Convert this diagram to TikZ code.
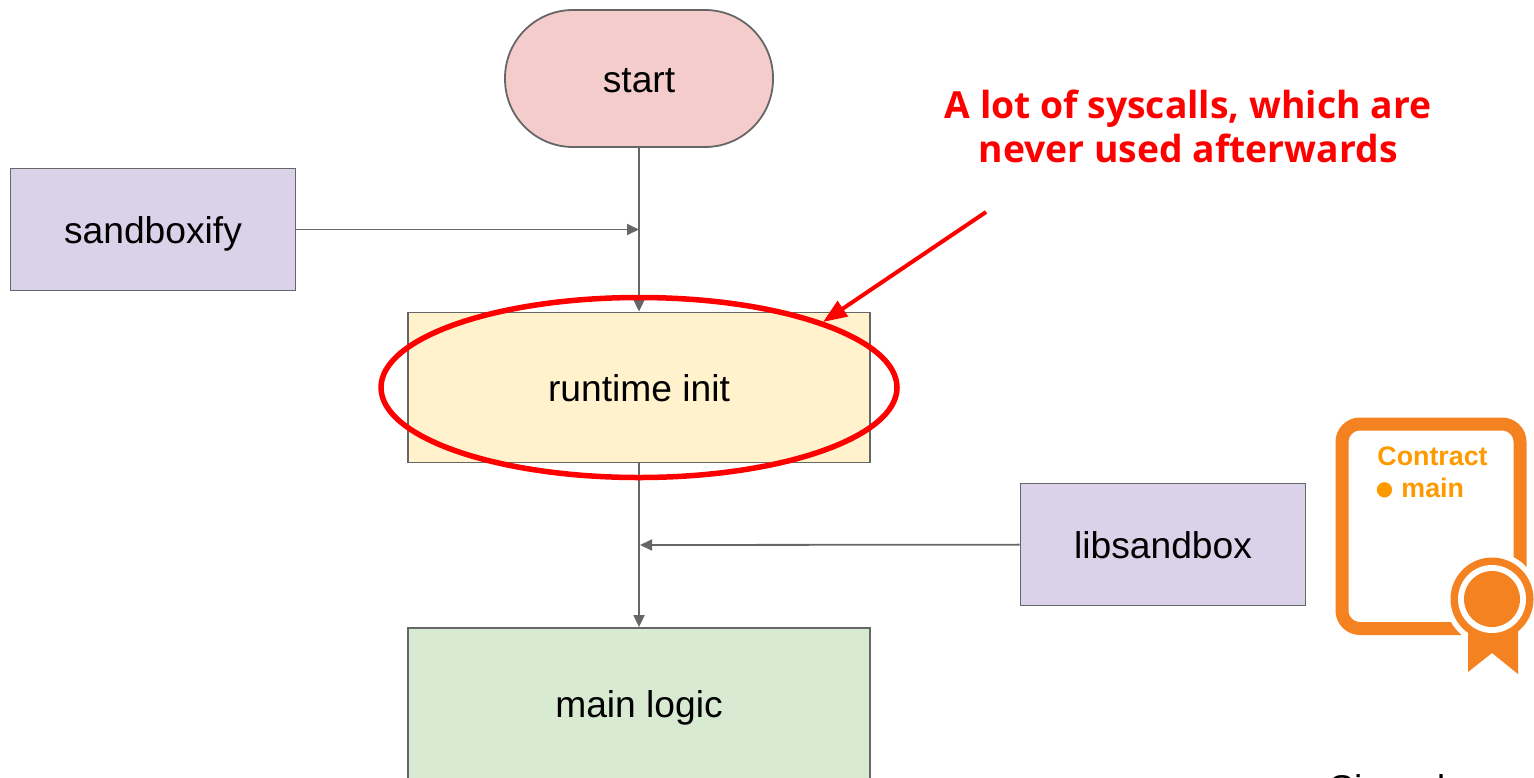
\documentclass[tikz,border=0pt]{standalone}
\usepackage{fontspec}
\setmainfont{Liberation Sans}
\newfontfamily\notefont{Open Sans}
\newfontfamily\dotfont{DejaVu Sans}
\usetikzlibrary{arrows.meta,positioning}
\definecolor{linegray}{HTML}{666666}
\definecolor{startpink}{HTML}{F4CCCC}
\definecolor{sandpurple}{HTML}{D9D2E9}
\definecolor{initcream}{HTML}{FFF2CC}
\definecolor{maingreen}{HTML}{D9EAD3}
\definecolor{badgeorange}{HTML}{F58220}
\definecolor{contractorange}{HTML}{FF9900}
\tikzset{
  flowbox/.style={draw=linegray, line width=0.9pt, inner sep=0pt, text height=15pt, text depth=1.5pt, font=\fontsize{18.6}{22}\selectfont},
  flowline/.style={draw=linegray, line width=0.9pt, -{Triangle[length=6pt,width=5.5pt]}},
  contractlabel/.style={text=contractorange, font=\fontsize{13.4}{16}\selectfont\bfseries, inner sep=0pt, anchor=west},
}
\begin{document}
\begin{tikzpicture}[x=0.5pt, y=-0.5pt]
\useasboundingbox (0,0) rectangle (1534,777);

\node[flowbox, fill=startpink, rounded corners=34pt, minimum width=134pt, minimum height=68.5pt] (start) at (639,78.5) {start};
\node[flowbox, fill=sandpurple, minimum width=142.5pt, minimum height=61pt] (sandboxify) at (153,229.5) {sandboxify};
\node[flowbox, fill=initcream, minimum width=231pt, minimum height=75pt] (init) at (639,387.5) {runtime init};
\node[flowbox, fill=sandpurple, minimum width=142.5pt, minimum height=61pt] (libsandbox) at (1163,544.5) {libsandbox};
% main logic runs off the bottom of the page
\begin{scope}
\clip (0,0) rectangle (1534,777);
\node[flowbox, fill=maingreen, minimum width=231pt, minimum height=76pt] (mainlogic) at (639,704) {main logic};
\node[anchor=west, inner sep=0pt, font=\fontsize{18.6}{22}\selectfont] (signed) at (1329,792) {Signed};
\end{scope}

\draw[flowline] (start) -- (init);
\draw[flowline] (init) -- (mainlogic);
\coordinate (joinup) at (start.south |- sandboxify.east);
\coordinate (joindown) at (640,545);
\draw[flowline] (sandboxify) -- (joinup);
\draw[flowline] (libsandbox) -- (joindown);

% red ellipse on top of init
\draw[red, line width=2.75pt] (639,387.5) ellipse[x radius=129pt, y radius=45pt];

\node[text=red, align=center, inner sep=0pt, font=\notefont\fontsize{18.65}{22}\selectfont\bfseries] (note) at (1188,126.5) {A lot of syscalls, which are\\never used afterwards};
\coordinate (notetail) at (986,212);
\coordinate (notetip) at (823,322);
\draw[red, line width=2pt, -{Triangle[length=12pt,width=9pt]}] (notetail) -- (notetip);

% contract badge
\draw[badgeorange, line width=6.5pt, rounded corners=9pt] (1485,628.5) -- (1342,628.5) -- (1342,424) -- (1520,424) -- (1520,600);
\fill[white] (1492,599) circle[radius=47];
\fill[badgeorange] (1468,630) -- (1518,630) -- (1518,674) -- (1492,653) -- (1468,672) -- cycle;
\fill[badgeorange] (1492,599) circle[radius=41.5];
\fill[white] (1492,599) circle[radius=34];
\fill[badgeorange] (1492,599) circle[radius=28];
\node[contractlabel] (contract) at (1377,456) {Contract};
\node[contractlabel] (contractmain) at (1377,488.5) {\makebox[12pt][l]{\hspace{-0.8pt}\raisebox{1pt}{\dotfont\fontsize{10}{12}\selectfont ●}}main};
\end{tikzpicture}
\end{document}
